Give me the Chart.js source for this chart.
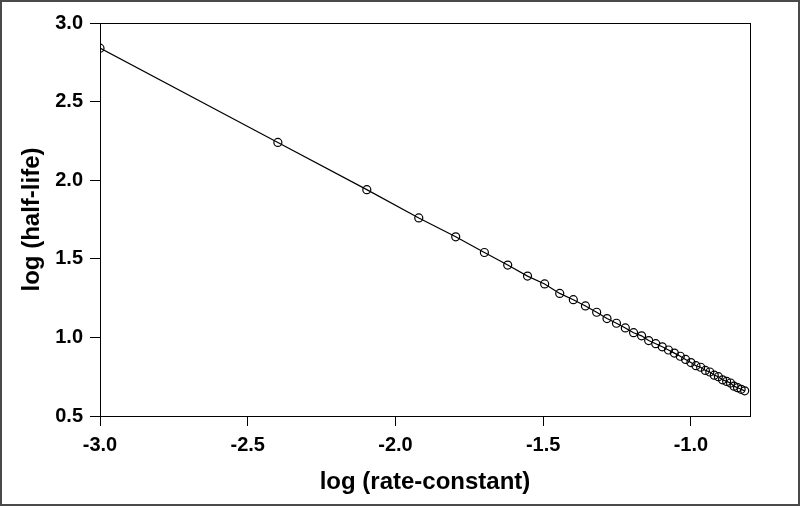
<!DOCTYPE html>
<html>
<head>
<meta charset="utf-8">
<script src="https://cdn.jsdelivr.net/npm/chart.js@4"></script>
<style>
  html, body { margin: 0; padding: 0; background: #fff; }
  #wrap { width: 800px; height: 506px; }
</style>
</head>
<body>
<div id="wrap"><canvas id="half-life-chart" width="800" height="506"></canvas></div>
<script>
// log of rate constant (x) and log of half-life (y)
const logRate = [
    -3.000, -2.398, -2.097, -1.921, -1.796, -1.699, -1.620, -1.553, -1.495, -1.444,
    -1.398, -1.357, -1.319, -1.284, -1.252, -1.222, -1.194, -1.167, -1.143, -1.119,
    -1.097, -1.076, -1.056, -1.036, -1.018, -1.000, -0.983, -0.967, -0.951, -0.936,
    -0.921, -0.907, -0.893, -0.879, -0.866, -0.854, -0.842, -0.830, -0.818
]
const logHalfLife = [
    2.84, 2.24, 1.94, 1.76, 1.64, 1.54, 1.46, 1.39, 1.34, 1.28,
    1.24, 1.20, 1.16, 1.12, 1.09, 1.06, 1.03, 1.01, 0.98, 0.96,
    0.94, 0.92, 0.90, 0.88, 0.86, 0.84, 0.82, 0.81, 0.79, 0.78,
    0.76, 0.75, 0.73, 0.72, 0.71, 0.69, 0.68, 0.67, 0.66
]
const xTicks = [-3.0, -2.5, -2.0, -1.5, -1.0]
const yTicks = [0.5, 1.0, 1.5, 2.0, 2.5, 3.0]

const FONT = 'Arial, "Liberation Sans", Helvetica, sans-serif'

// frame round the plot area and round the whole picture
const framePlugin = {
    id: 'frame',
    afterDraw(chart) {
        const ctx = chart.ctx
        const a = chart.chartArea
        ctx.save()
        ctx.strokeStyle = '#000'
        ctx.lineWidth = 1
        ctx.strokeRect(a.left + 0.5, a.top + 0.5, a.right - a.left, a.bottom - a.top)
        ctx.strokeStyle = '#4a4a4a'
        ctx.lineWidth = 2
        ctx.strokeRect(1, 1, chart.width - 2, chart.height - 2)
        ctx.restore()
    }
}

function set_up_chart() {
    const points = logRate.map((x, i) => ({x: x, y: logHalfLife[i]}))

    const data = {
        datasets: [{
            label: 'half-life',
            data: points,
            showLine: true,
            borderColor: '#000',
            borderWidth: 1.2,
            backgroundColor: 'rgba(0,0,0,0)',
            pointBackgroundColor: 'rgba(0,0,0,0)',
            pointBorderColor: '#000',
            pointBorderWidth: 1.2,
            pointRadius: 4,
            tension: 0
        }]
    }

    const config = {
        type: 'scatter',
        data: data,
        plugins: [framePlugin],
        options: {
            responsive: false,
            animation: false,
            layout: {padding: {top: 23, right: 50, left: 0, bottom: 0}},
            plugins: {legend: {display: false}, tooltip: {enabled: false}},
            scales: {
                x: {
                    type: 'linear',
                    min: -3.0,
                    max: -0.8,
                    afterBuildTicks: axis => { axis.ticks = xTicks.map(v => ({value: v})) },
                    afterFit: scale => { scale.height = 90 },
                    grid: {drawOnChartArea: false, drawTicks: true, tickLength: 10, color: '#000', lineWidth: 1},
                    border: {color: '#000', width: 1},
                    ticks: {
                        color: '#000',
                        padding: 7,
                        maxRotation: 0,
                        font: {family: FONT, size: 20, weight: 'bold'},
                        callback: v => v.toFixed(1)
                    },
                    title: {
                        display: true,
                        text: 'log (rate-constant)',
                        color: '#000',
                        padding: {top: 0, bottom: 9},
                        font: {family: FONT, size: 24, weight: 'bold'}
                    }
                },
                y: {
                    type: 'linear',
                    min: 0.5,
                    max: 3.0,
                    afterBuildTicks: axis => { axis.ticks = yTicks.map(v => ({value: v})) },
                    afterFit: scale => { scale.width = 100 },
                    grid: {drawOnChartArea: false, drawTicks: true, tickLength: 10, color: '#000', lineWidth: 1},
                    border: {color: '#000', width: 1},
                    ticks: {
                        color: '#000',
                        padding: 7,
                        font: {family: FONT, size: 20, weight: 'bold'},
                        callback: v => v.toFixed(1)
                    },
                    title: {
                        display: true,
                        text: 'log (half-life)',
                        color: '#000',
                        padding: {top: 18, bottom: 0},
                        font: {family: FONT, size: 24, weight: 'bold'}
                    }
                }
            }
        }
    }

    let my_chart = document.querySelector("#half-life-chart")
    let crt = new Chart(my_chart, config)
}

set_up_chart()
</script>
</body>
</html>
